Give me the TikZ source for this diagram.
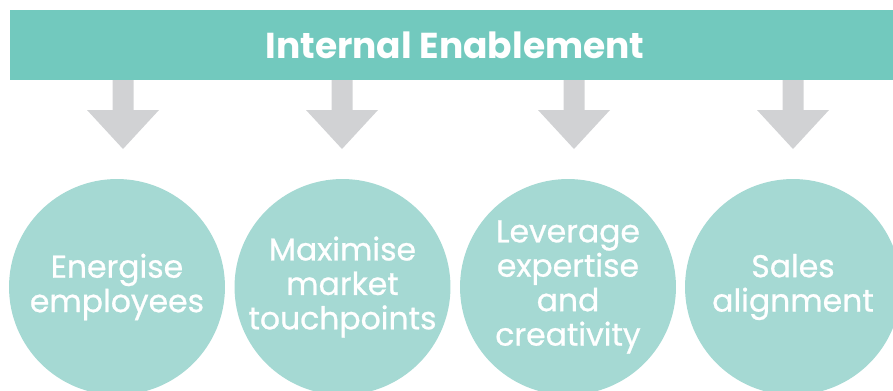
\documentclass[tikz,border=0pt]{standalone}
\usepackage{fontspec}
\setmainfont{Poppins}
\newfontface\topicfont{Poppins}[FakeBold=0.8]
\definecolor{bannerteal}{HTML}{72C9BE}
\definecolor{topicteal}{HTML}{A5D9D3}
\definecolor{arrowgrey}{HTML}{D1D2D4}

\begin{document}
\begin{tikzpicture}[x=0.02cm, y=-0.02cm,
  banner/.style={fill=bannerteal, minimum width=17.8cm, minimum height=1.4cm, inner sep=0pt,
    text=white, font=\fontsize{20.5}{24}\selectfont\bfseries},
  topic/.style={circle, fill=topicteal, minimum size=4.32cm, inner sep=0pt,
    text=white, align=center, font=\topicfont\fontsize{17.9}{19.6}\selectfont},
  blockarrow/.style={fill=arrowgrey},
]
\useasboundingbox (0,0) rectangle (893,390);
\clip (0,0) rectangle (893,390);

% Header bar
\node[banner] (head) at (455,45) {Internal Enablement};

% Grey block arrows under the bar
\foreach \x in {123,342,574,793}
  \fill[blockarrow] (\x-10.5,80) -- (\x+10.5,80) -- (\x+10.5,110) -- (\x+36,110)
    -- (\x,149) -- (\x-36,110) -- (\x-10.5,110) -- cycle;

% Topic circles
\node[topic] (energise) at (117,287) {Energise\\employees};
\node[topic] (market)   at (342.5,287) {Maximise\\market\\touchpoints};
\node[topic] (leverage) at (568,287) {Leverage\\expertise\\and\\creativity};
\node[topic] (sales)    at (793,287) {Sales\\alignment};

\end{tikzpicture}
\end{document}
